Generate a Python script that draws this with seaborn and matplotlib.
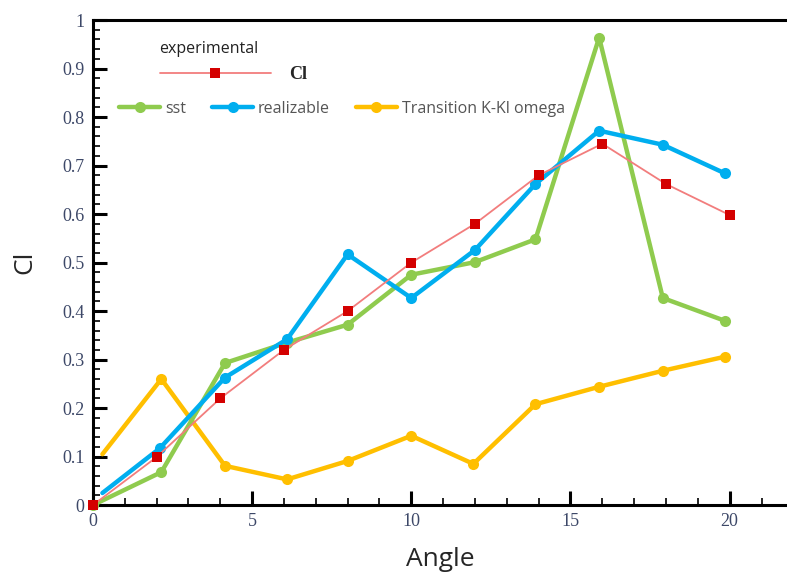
import matplotlib
matplotlib.use('Agg')
import matplotlib.pyplot as plt
import seaborn as sns
import numpy as np
import pandas as pd
from matplotlib.ticker import MultipleLocator

# data
exp_angle = [0, 2, 4, 6, 8, 10, 12, 14, 16, 18, 20]
exp_cl = [0.0, 0.099, 0.22, 0.32, 0.40, 0.50, 0.58, 0.68, 0.745, 0.662, 0.598]

sst_angle = [0, 2.15, 4.15, 6.1, 8.0, 10.0, 12.0, 13.9, 15.9, 17.9, 19.85]
sst_cl = [0.0, 0.068, 0.293, 0.335, 0.372, 0.475, 0.501, 0.548, 0.964, 0.427, 0.38]

real_angle = [0.3, 2.1, 4.15, 6.1, 8.0, 10.0, 12.0, 13.9, 15.9, 17.9, 19.85]
real_cl = [0.025, 0.117, 0.263, 0.342, 0.517, 0.427, 0.526, 0.662, 0.772, 0.743, 0.684]

trans_angle = [0.3, 2.15, 4.15, 6.1, 8.0, 10.0, 11.95, 13.9, 15.9, 17.9, 19.85]
trans_cl = [0.105, 0.26, 0.081, 0.053, 0.091, 0.143, 0.085, 0.208, 0.244, 0.277, 0.306]

RED = '#d40000'
GREEN = '#8fcb4e'
BLUE = '#00aeef'
YELLOW = '#ffbf00'

sns.set_style('ticks')
plt.rcParams['font.family'] = ['Liberation Serif', 'DejaVu Sans']

fig = plt.figure(figsize=(7.87, 5.74), dpi=100)
ax = fig.add_axes([0.118, 0.120, 0.882, 0.845])

sst = pd.DataFrame({'angle': sst_angle, 'cl': sst_cl})
real = pd.DataFrame({'angle': real_angle, 'cl': real_cl})
trans = pd.DataFrame({'angle': trans_angle, 'cl': trans_cl})
exp = pd.DataFrame({'angle': exp_angle, 'cl': exp_cl})

# the first model points have no visible marker in the reference
sns.lineplot(data=trans, x='angle', y='cl', ax=ax, color=YELLOW, linewidth=3.2,
             marker='o', markersize=8, markeredgewidth=0, label='Transition K-Kl omega',
             markevery=list(range(1, len(trans_cl))), clip_on=False, zorder=3)
sns.lineplot(data=sst, x='angle', y='cl', ax=ax, color=GREEN, linewidth=3.2,
             marker='o', markersize=8, markeredgewidth=0, label='sst',
             clip_on=False, zorder=4)
sns.lineplot(data=real, x='angle', y='cl', ax=ax, color=BLUE, linewidth=3.2,
             marker='o', markersize=8, markeredgewidth=0, label='realizable',
             markevery=list(range(1, len(real_cl))), clip_on=False, zorder=5)
sns.lineplot(data=exp, x='angle', y='cl', ax=ax, color='#f27d7d', linewidth=1.3,
             marker='s', markersize=7, markerfacecolor=RED, markeredgewidth=0,
             label='Cl', clip_on=False, zorder=6)

ax.set_xlim(0, 21.8)
ax.set_ylim(0, 1)
ax.xaxis.set_major_locator(MultipleLocator(5))
ax.xaxis.set_minor_locator(MultipleLocator(1))
ax.yaxis.set_minor_locator(MultipleLocator(0.02))
ax.set_yticks(np.arange(0, 1.01, 0.1))
ax.set_yticklabels(['0', '0.1', '0.2', '0.3', '0.4', '0.5', '0.6', '0.7', '0.8', '0.9', '1'])
ax.tick_params(which='major', direction='in', length=10, width=2.2, color='black',
               labelsize=13, labelcolor='#3d4868', pad=6)
ax.tick_params(which='minor', direction='in', length=5, width=1.2, color='black')
ax.tick_params(top=False, right=False, which='both')

for s in ['left', 'bottom', 'top']:
    ax.spines[s].set_linewidth(2.2)
    ax.spines[s].set_color('black')
ax.spines['right'].set_visible(False)

ax.set_xlabel('Angle', fontsize=19, family=['Open Sans', 'DejaVu Sans'], labelpad=12)
ax.set_ylabel('Cl', fontsize=19, family=['Open Sans', 'DejaVu Sans'], labelpad=18)

handles, labels = ax.get_legend_handles_labels()
hd = dict(zip(labels, handles))
leg1 = ax.legend([hd['Cl']], ['Cl'], title='experimental', loc='upper left',
                 bbox_to_anchor=(0.083, 0.975), frameon=False, handlelength=6.2,
                 handletextpad=1.0, borderpad=0, alignment='left',
                 prop={'family': 'Liberation Serif', 'size': 13, 'weight': 'bold'},
                 title_fontproperties={'family': 'Open Sans', 'size': 11.5})
leg1.get_title().set_color('#222222')
ax.add_artist(leg1)
leg2 = ax.legend([hd['sst'], hd['realizable'], hd['Transition K-Kl omega']],
                 ['sst', 'realizable', 'Transition K-Kl omega'], ncol=3, loc='upper left',
                 bbox_to_anchor=(0.026, 0.85), frameon=False, handlelength=2.6,
                 handletextpad=0.3, columnspacing=1.6, borderpad=0,
                 prop={'family': 'Open Sans', 'size': 11.5})
for t in leg2.get_texts():
    t.set_color('#555555')

fig.savefig('out.png', dpi=100)
